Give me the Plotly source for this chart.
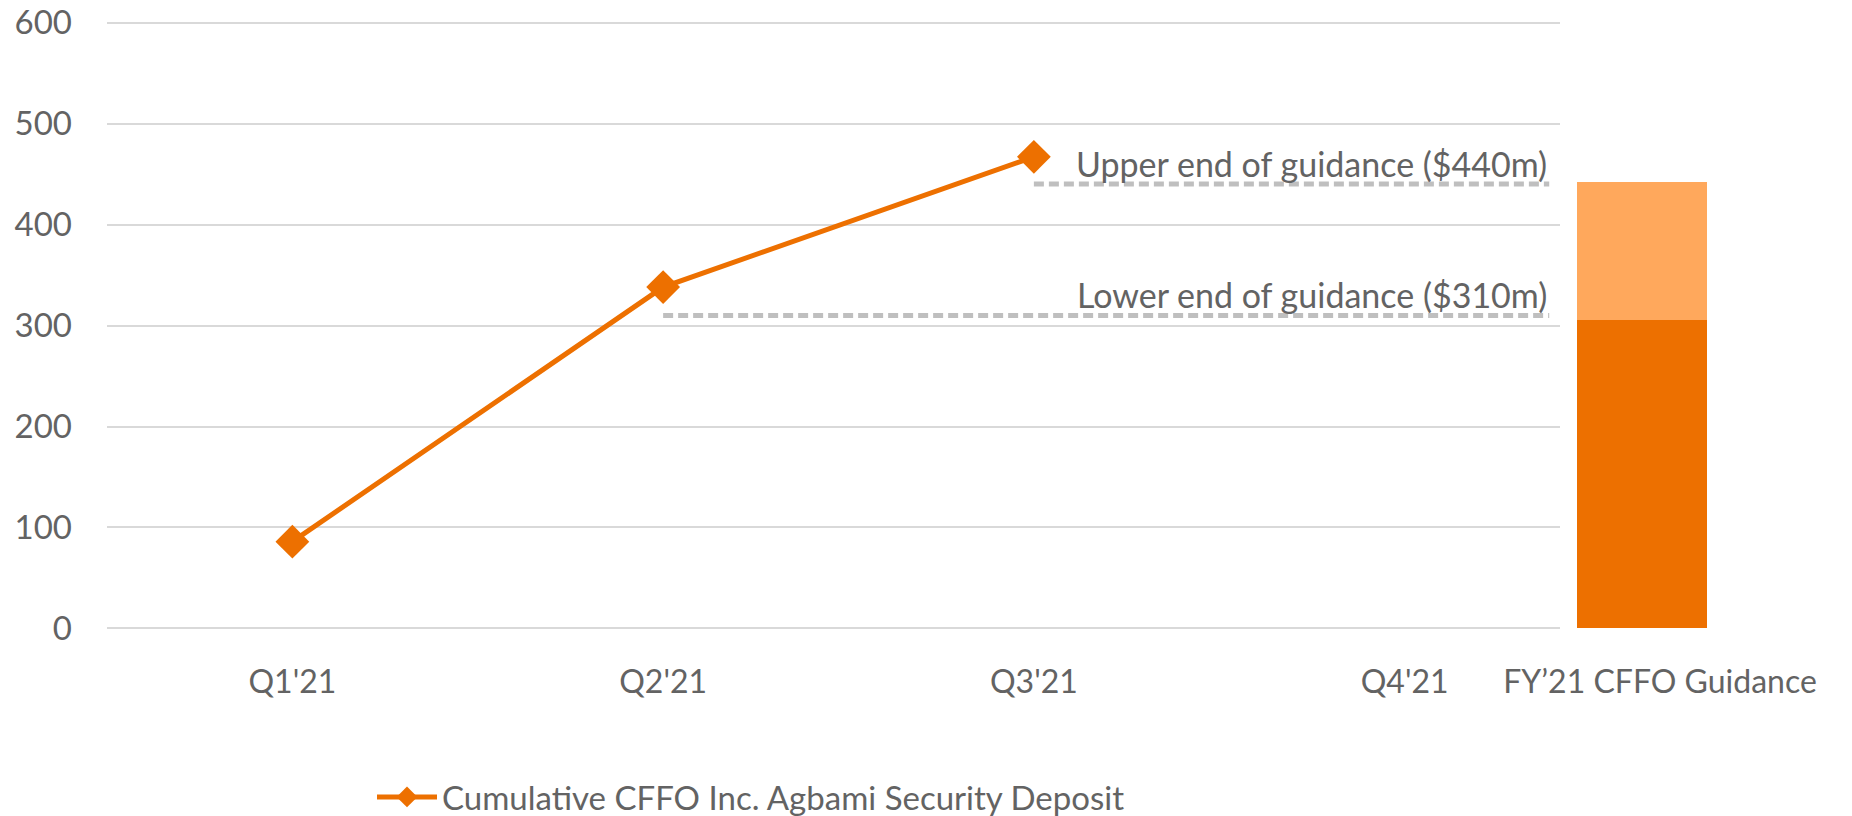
import plotly.graph_objects as go

# ---- data ----
quarters = ["Q1'21", "Q2'21", "Q3'21", "Q4'21"]
cumulative_cffo = [86, 338, 467, None]

guidance_label = "FY’21 CFFO Guidance"
guidance_low = 305          # dark part of the guidance bar
guidance_range = 137        # light part stacked on top

upper_guide = 440
lower_guide = 310
upper_guide_from = "Q3'21"
lower_guide_from = "Q2'21"
guide_end = 3.39            # where the dashed lines stop (in quarter units)

ORANGE = "#ED7000"
LIGHT_ORANGE = "#FFA85C"
GREY_TEXT = "#636363"
GRID = "#D9D9D9"
DASH = "#BFBFBF"
FONT = "Lato"

W, H = 1852, 816

# y: value 0 at 628px, 600 at 23px; pad range a bit so the edge gridlines draw
Y_LO, Y_HI = -1.5, 601.5
ppu = (628 - 23) / 600
L, R = 107, 100
T = round(23 - (Y_HI - 600) * ppu)
B = round(H - 628 - (0 - Y_LO) * ppu)
plot_w = W - L - R
plot_h = H - T - B


def px_to_dom(p):
    return (p - L) / plot_w


qx = list(range(len(quarters)))

fig = go.Figure()

fig.add_trace(go.Scatter(
    x=qx, y=cumulative_cffo,
    mode='lines+markers',
    name='Cumulative CFFO Inc. Agbami Security Deposit',
    line=dict(color=ORANGE, width=5),
    marker=dict(symbol='diamond', size=26, color=ORANGE),
))

for val, start in [(upper_guide, upper_guide_from), (lower_guide, lower_guide_from)]:
    fig.add_trace(go.Scatter(
        x=[quarters.index(start), guide_end], y=[val, val],
        mode='lines', showlegend=False, hoverinfo='skip',
        line=dict(color=DASH, width=5, dash='10px,5px'),
    ))
    fig.add_annotation(
        x=guide_end, y=val, xref='x', yref='y',
        text=f"{'Upper' if val == upper_guide else 'Lower'} end of guidance (${val}m)",
        showarrow=False, xanchor='right', yanchor='bottom', yshift=-2,
        font=dict(family=FONT, size=34, color=GREY_TEXT),
    )

# guidance bar on its own x axis to the right
fig.add_trace(go.Bar(
    x=[guidance_label], y=[guidance_low], xaxis='x2', yaxis='y2',
    marker_color=ORANGE, marker_line_width=0, width=1, offset=-0.64,
    showlegend=False,
))
fig.add_trace(go.Bar(
    x=[guidance_label], y=[guidance_range], xaxis='x2', yaxis='y2',
    marker_color=LIGHT_ORANGE, marker_line_width=0, width=1, offset=-0.64,
    showlegend=False,
))

unit = 130  # px per unit on the bar axis
tick_px = 1660
x2_lo, x2_hi = 1560, W - R

fig.update_layout(
    width=W, height=H,
    margin=dict(l=L, r=R, t=T, b=B, autoexpand=False),
    paper_bgcolor='white', plot_bgcolor='white',
    font=dict(family=FONT, color=GREY_TEXT, size=32),
    barmode='stack',
    xaxis=dict(
        domain=[0, px_to_dom(1590)],
        range=[-0.5, 3.5],
        tickvals=qx, ticktext=quarters,
        showgrid=False, zeroline=False, showline=False,
        ticks='', ticklabelstandoff=30, automargin=False,
        ticklabeloverflow='allow',
        tickfont=dict(size=32, color=GREY_TEXT),
    ),
    yaxis=dict(
        range=[Y_LO, Y_HI], tickvals=[0, 100, 200, 300, 400, 500, 600],
        showgrid=True, gridcolor=GRID, gridwidth=2,
        zeroline=False, showline=False, ticks='',
        ticklabelstandoff=34, automargin=False,
        ticklabeloverflow='allow',
        tickfont=dict(size=33, color=GREY_TEXT),
    ),
    xaxis2=dict(
        domain=[px_to_dom(x2_lo), px_to_dom(x2_hi)],
        range=[(x2_lo - tick_px) / unit, (x2_hi - tick_px) / unit],
        anchor='y2', type='category',
        showgrid=False, zeroline=False, showline=False, ticks='',
        ticklabelstandoff=30, automargin=False,
        ticklabeloverflow='allow',
        tickfont=dict(size=32, color=GREY_TEXT),
    ),
    yaxis2=dict(
        anchor='x2', matches='y', visible=False, range=[Y_LO, Y_HI],
        showgrid=False,
    ),
    legend=dict(
        orientation='h', x=px_to_dom(372), xanchor='left',
        y=(H - B - 797) / plot_h, yanchor='middle',
        itemwidth=60,
        font=dict(size=33, color=GREY_TEXT),
        bgcolor='rgba(0,0,0,0)',
    ),
)

# drop the page's default 8px body margin so the figure fills the window
fig.write_html(
    "out.html",
    config={'displayModeBar': False},
    post_script="document.body.style.margin = '0';",
)
